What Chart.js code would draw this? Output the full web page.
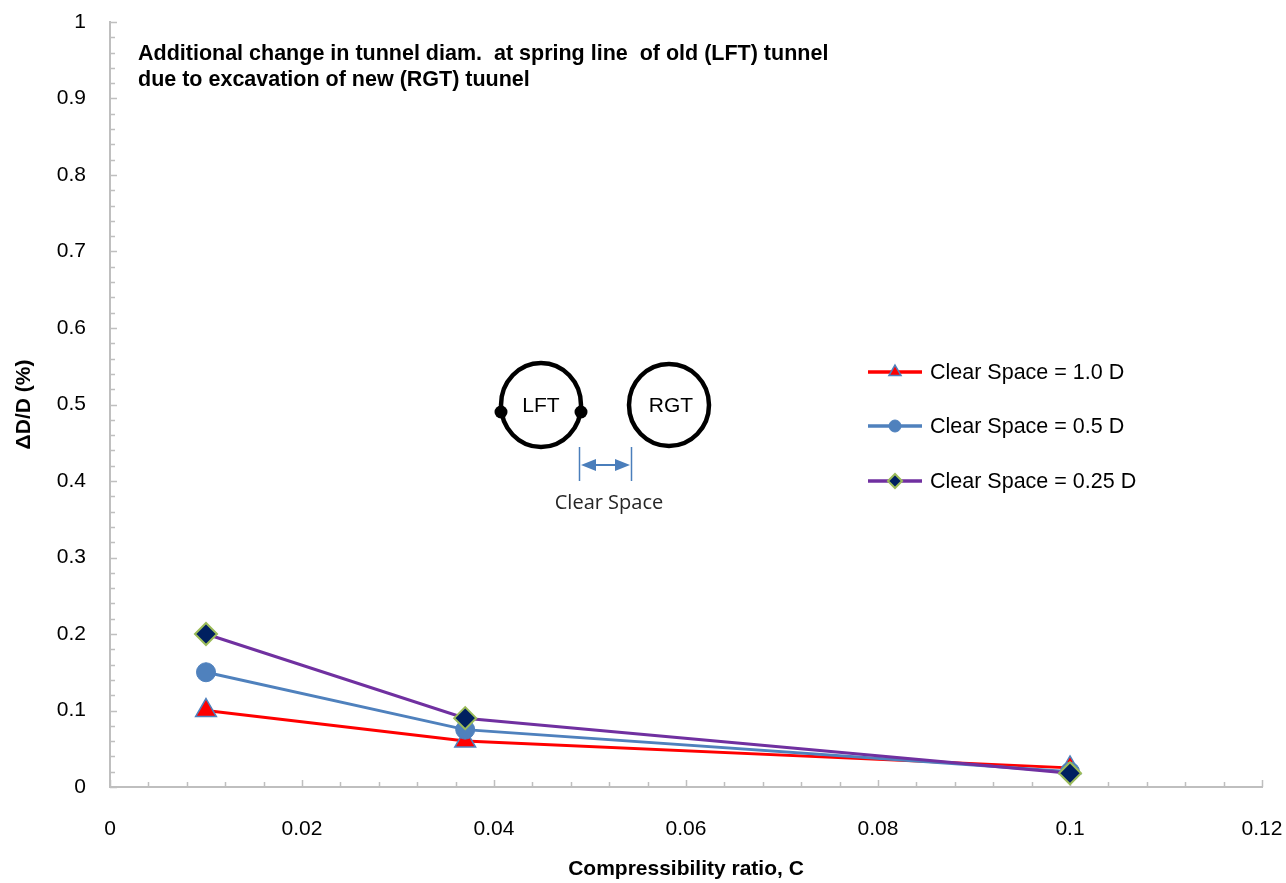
<!DOCTYPE html>
<html><head><meta charset="utf-8">
<script src="https://cdn.jsdelivr.net/npm/chart.js@4/dist/chart.umd.min.js"></script>
<style>html,body{margin:0;padding:0;background:#fff}#wrap{width:1286px;height:883px;position:relative}</style>
</head><body><div id="wrap"><canvas id="c" width="1286" height="883"></canvas></div>
<script>
// ---- data ----
const compressibility = [0.01, 0.037, 0.1];
const clearSpace10 = [0.1, 0.06, 0.025];
const clearSpace05 = [0.15, 0.075, 0.02];
const clearSpace025 = [0.2, 0.09, 0.018];
const seriesNames = ['Clear Space = 1.0 D', 'Clear Space = 0.5 D', 'Clear Space = 0.25 D'];
const xTickValues = [0, 0.02, 0.04, 0.06, 0.08, 0.1, 0.12];
const xTickLabels = ['0', '0.02', '0.04', '0.06', '0.08', '0.1', '0.12'];
const yTickValues = [0, 0.1, 0.2, 0.3, 0.4, 0.5, 0.6, 0.7, 0.8, 0.9, 1];
const yTickLabels = ['0', '0.1', '0.2', '0.3', '0.4', '0.5', '0.6', '0.7', '0.8', '0.9', '1'];
const chartTitleLines = ['Additional change in tunnel diam.  at spring line  of old (LFT) tunnel', 'due to excavation of new (RGT) tuunel'];
const xAxisTitle = 'Compressibility ratio, C';
const yAxisTitle = 'ΔD/D (%)';

const pts = v => compressibility.map((x, i) => ({x, y: v[i]}));
const FONT = "'Liberation Sans', Arial, sans-serif";

const datasets = [
  {label: seriesNames[0], data: pts(clearSpace10), borderColor: '#ff0000', backgroundColor: '#ff0000',
   pointStyle: 'triangle', pointRadius: 12, pointBackgroundColor: '#ff0000', pointBorderColor: '#4f81bd', pointBorderWidth: 1.5, order: 3, legendRadius: 7},
  {label: seriesNames[1], data: pts(clearSpace05), borderColor: '#4f81bd', backgroundColor: '#4f81bd',
   pointStyle: 'circle', pointRadius: 9.5, pointBackgroundColor: '#4f81bd', pointBorderColor: '#4f81bd', pointBorderWidth: 1, order: 2, legendRadius: 6},
  {label: seriesNames[2], data: pts(clearSpace025), borderColor: '#7030a0', backgroundColor: '#7030a0',
   pointStyle: 'rectRot', pointRadius: 11, pointBackgroundColor: '#002060', pointBorderColor: '#9bbb59', pointBorderWidth: 2, order: 1, legendRadius: 7}
];
datasets.forEach(d => { d.borderWidth = 3; d.tension = 0; d.pointHoverRadius = d.pointRadius; d.clip = false; });

const zeroPad = s => { s.paddingLeft = 0; s.paddingRight = 0; s.paddingTop = 0; s.paddingBottom = 0; };

const decor = {
  id: 'decor',
  beforeDatasetsDraw(chart) {
    const ctx = chart.ctx, xs = chart.scales.x, ys = chart.scales.y, a = chart.chartArea;
    ctx.save();
    ctx.strokeStyle = '#bfbfbf'; ctx.lineWidth = 1.5;
    for (let i = 0; i <= 30; i++) {
      const px = Math.round(xs.getPixelForValue(i * 0.004)) + 0.5;
      const len = (i % 5 === 0) ? 7 : 5;
      ctx.beginPath(); ctx.moveTo(px, a.bottom); ctx.lineTo(px, a.bottom - len); ctx.stroke();
    }
    for (let i = 0; i <= 50; i++) {
      const py = Math.round(ys.getPixelForValue(i * 0.02)) + 0.5;
      const len = (i % 5 === 0) ? 7 : 5;
      ctx.beginPath(); ctx.moveTo(a.left, py); ctx.lineTo(a.left + len, py); ctx.stroke();
    }
    ctx.restore();
  },
  afterDraw(chart) {
    const ctx = chart.ctx;
    ctx.save();
    ctx.fillStyle = '#000';
    ctx.font = 'bold 21.5px ' + FONT;
    ctx.textAlign = 'left'; ctx.textBaseline = 'alphabetic';
    ctx.fillText(chartTitleLines[0], 138, 60);
    ctx.fillText(chartTitleLines[1], 138, 86);

    const ly = [372, 426, 481];
    chart.data.datasets.forEach((d, i) => {
      const y = ly[i];
      ctx.strokeStyle = d.borderColor; ctx.lineWidth = 3.5;
      ctx.beginPath(); ctx.moveTo(868, y); ctx.lineTo(922, y); ctx.stroke();
      ctx.fillStyle = d.pointBackgroundColor; ctx.strokeStyle = d.pointBorderColor; ctx.lineWidth = d.pointBorderWidth;
      Chart.helpers.drawPoint(ctx, {pointStyle: d.pointStyle, radius: d.legendRadius, rotation: 0, borderWidth: d.pointBorderWidth}, 895, y);
      ctx.fillStyle = '#000';
      ctx.font = '21.5px ' + FONT; ctx.textAlign = 'left'; ctx.textBaseline = 'middle';
      ctx.fillText(d.label, 930, y + 1);
    });

    ctx.strokeStyle = '#000'; ctx.lineWidth = 4.5;
    ctx.beginPath(); ctx.ellipse(541, 405, 40, 42, 0, 0, Math.PI * 2); ctx.stroke();
    ctx.beginPath(); ctx.ellipse(669, 405, 40, 41, 0, 0, Math.PI * 2); ctx.stroke();
    ctx.fillStyle = '#000';
    ctx.beginPath(); ctx.arc(501, 412, 6.5, 0, Math.PI * 2); ctx.fill();
    ctx.beginPath(); ctx.arc(581, 412, 6.5, 0, Math.PI * 2); ctx.fill();
    ctx.font = '21px ' + FONT; ctx.textAlign = 'center'; ctx.textBaseline = 'middle';
    ctx.fillText('LFT', 541, 406);
    ctx.fillText('RGT', 671, 406);
    const ac = '#4a7ebb';
    ctx.strokeStyle = ac; ctx.fillStyle = ac; ctx.lineWidth = 1.5;
    ctx.beginPath(); ctx.moveTo(579.5, 447); ctx.lineTo(579.5, 481); ctx.stroke();
    ctx.beginPath(); ctx.moveTo(631.5, 447); ctx.lineTo(631.5, 481); ctx.stroke();
    ctx.lineWidth = 2;
    ctx.beginPath(); ctx.moveTo(590, 465); ctx.lineTo(620, 465); ctx.stroke();
    ctx.beginPath(); ctx.moveTo(581, 465); ctx.lineTo(596, 459); ctx.lineTo(596, 471); ctx.closePath(); ctx.fill();
    ctx.beginPath(); ctx.moveTo(630, 465); ctx.lineTo(615, 459); ctx.lineTo(615, 471); ctx.closePath(); ctx.fill();
    ctx.fillStyle = '#262626';
    ctx.font = "20px 'Open Sans', sans-serif"; ctx.textAlign = 'center'; ctx.textBaseline = 'middle';
    ctx.fillText('Clear Space', 609, 503);
    ctx.restore();
  }
};

new Chart(document.getElementById('c'), {
  type: 'line',
  data: {datasets},
  options: {
    responsive: false, animation: false, events: [],
    layout: {padding: {top: 22, right: 24, left: 0, bottom: 0}},
    plugins: {legend: {display: false}, tooltip: {enabled: false}, title: {display: false}},
    scales: {
      x: {
        type: 'linear', min: 0, max: 0.12,
        afterBuildTicks: s => { s.ticks = xTickValues.map(v => ({value: v})); },
        ticks: {callback: (v, i) => xTickLabels[i], color: '#000', font: {family: FONT, size: 21}, padding: 30, maxRotation: 0, autoSkip: false},
        grid: {display: false, drawTicks: false},
        border: {display: true, color: '#bfbfbf', width: 2},
        title: {display: true, text: xAxisTitle, color: '#000', font: {family: FONT, size: 21, weight: 'bold'}, padding: {top: 0, bottom: 1}},
        afterFit: s => { s.height = 96; zeroPad(s); }
      },
      y: {
        type: 'linear', min: 0, max: 1,
        afterBuildTicks: s => { s.ticks = yTickValues.map(v => ({value: v})); },
        ticks: {callback: (v, i) => yTickLabels[i], color: '#000', font: {family: FONT, size: 21}, padding: 24, autoSkip: false},
        grid: {display: false, drawTicks: false},
        border: {display: true, color: '#bfbfbf', width: 2},
        title: {display: true, text: yAxisTitle, color: '#000', font: {family: FONT, size: 21, weight: 'bold'}, padding: {top: 12, bottom: 0}},
        afterFit: s => { s.width = 110; zeroPad(s); }
      }
    }
  },
  plugins: [decor]
});
</script>
</body></html>
